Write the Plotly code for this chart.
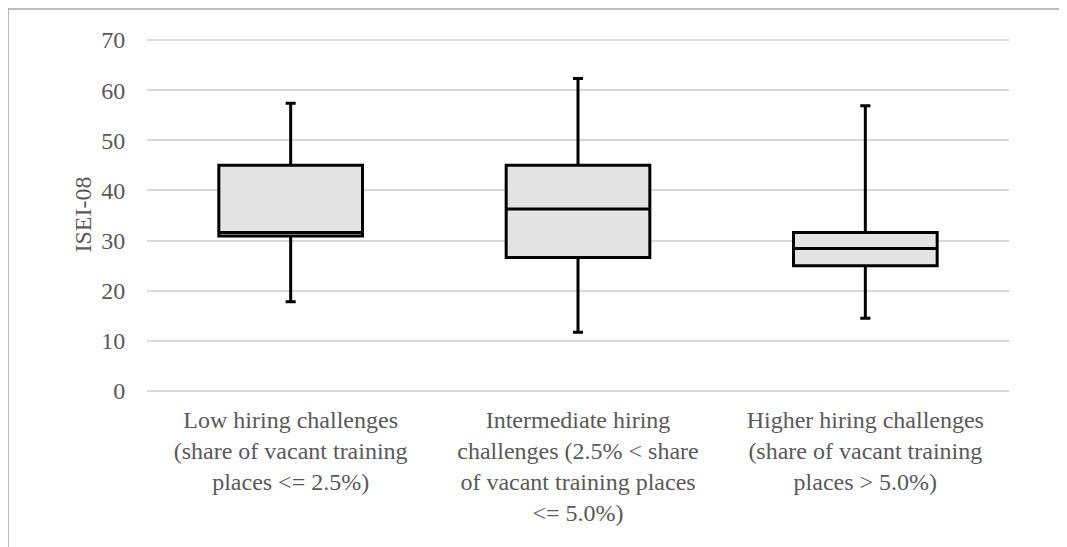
import plotly.graph_objects as go

categories = [
    "Low hiring challenges<br>(share of vacant training<br>places &lt;= 2.5%)",
    "Intermediate hiring<br>challenges (2.5% &lt; share<br>of vacant training places<br>&lt;= 5.0%)",
    "Higher hiring challenges<br>(share of vacant training<br>places &gt; 5.0%)",
]
cat_keys = ["low", "intermediate", "higher"]
lower_whisker = [17.8, 11.7, 14.5]
q1_values = [30.9, 26.6, 25.0]
median_values = [31.6, 36.3, 28.4]
q3_values = [45.0, 45.0, 31.6]
upper_whisker = [57.4, 62.3, 56.9]
y_ticks = [0, 10, 20, 30, 40, 50, 60, 70]

FONT = "Liberation Serif, Times New Roman, serif"
TEXT = "#595959"
FS = 24

# page body has an 8px margin; figure coordinates = page coordinates - 8
L, T, R, B = 139, 29, 66, 163
PW = 1067 - L - R
PH = 547 - T - B

fig = go.Figure()
fig.add_trace(go.Box(
    x=cat_keys,
    q1=q1_values,
    median=median_values,
    q3=q3_values,
    lowerfence=lower_whisker,
    upperfence=upper_whisker,
    boxpoints=False,
    fillcolor="#e4e4e4",
    line=dict(color="#000000", width=3),
    width=0.5,
    whiskerwidth=0.07,
    showlegend=False,
    hoverinfo="skip",
))

fig.update_layout(
    width=1067, height=547,
    margin=dict(l=L, r=R, t=T, b=B),
    paper_bgcolor="white", plot_bgcolor="white",
    font=dict(family=FONT, size=FS, color=TEXT),
    xaxis=dict(
        type="category",
        range=[-0.5, len(cat_keys) - 0.5],
        tickmode="array", tickvals=cat_keys, ticktext=categories,
        showgrid=False, zeroline=False, showline=False,
        ticks="outside", ticklen=6, tickcolor="rgba(0,0,0,0)",
        tickfont=dict(family=FONT, size=FS, color=TEXT),
    ),
    yaxis=dict(
        range=[-0.2, 70.6], tickvals=y_ticks,
        showgrid=True, gridcolor="#d9d9d9", gridwidth=2,
        zeroline=True, zerolinecolor="#d9d9d9", zerolinewidth=2, showline=False,
        ticks="outside", ticklen=16, tickcolor="rgba(0,0,0,0)",
        tickfont=dict(family=FONT, size=FS, color=TEXT),
        title=dict(text="ISEI-08", font=dict(family=FONT, size=FS, color=TEXT), standoff=2),
    ),
    shapes=[dict(
        type="rect", xref="paper", yref="paper",
        x0=(0 - L) / PW, x1=(1075 - L) / PW,
        y0=(547 - B - 560) / PH, y1=(547 - B - 1) / PH,
        line=dict(color="#a6a6a6", width=1.5), fillcolor="rgba(0,0,0,0)", layer="below",
    )],
)

fig.write_html("out.html")
